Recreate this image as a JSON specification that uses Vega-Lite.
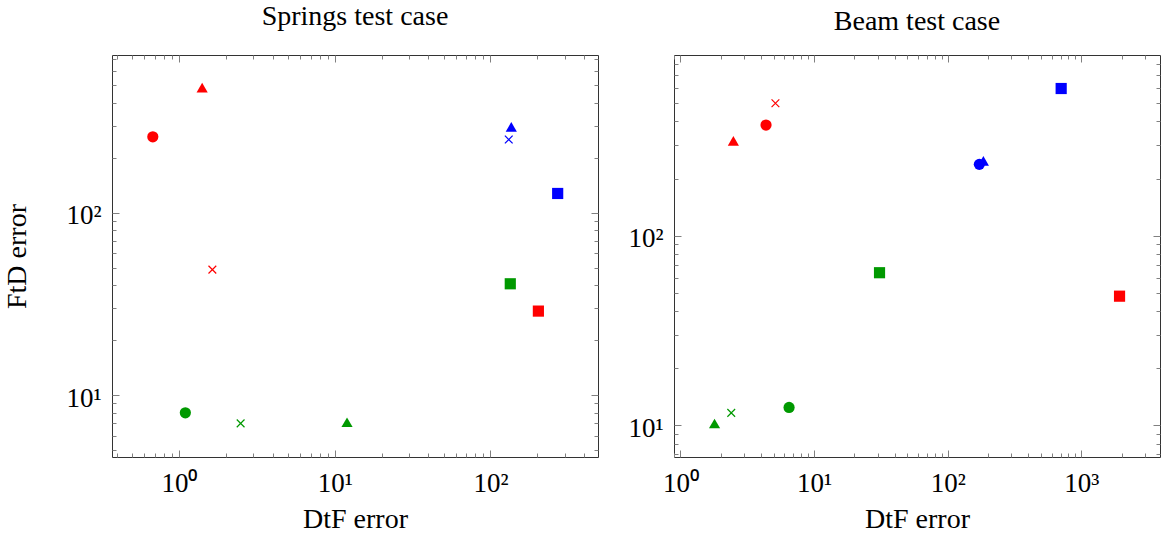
{
  "$schema": "https://vega.github.io/schema/vega-lite/v6.json",
  "padding": {"left": 3, "top": 2, "right": 5, "bottom": 0},
  "spacing": 28,
  "datasets": {
    "springs": [
      {"dtf": 0.68, "ftd": 261, "color": "red", "marker": "circle"},
      {"dtf": 1.41, "ftd": 485, "color": "red", "marker": "triangle"},
      {"dtf": 1.64, "ftd": 48.8, "color": "red", "marker": "cross"},
      {"dtf": 203, "ftd": 28.9, "color": "red", "marker": "square"},
      {"dtf": 1.10, "ftd": 8.0, "color": "green", "marker": "circle"},
      {"dtf": 2.49, "ftd": 7.0, "color": "green", "marker": "cross"},
      {"dtf": 12.0, "ftd": 7.1, "color": "green", "marker": "triangle"},
      {"dtf": 134, "ftd": 40.8, "color": "green", "marker": "square"},
      {"dtf": 136, "ftd": 296, "color": "blue", "marker": "triangle"},
      {"dtf": 131, "ftd": 252, "color": "blue", "marker": "cross"},
      {"dtf": 270, "ftd": 127.6, "color": "blue", "marker": "square"}
    ],
    "beam": [
      {"dtf": 4.37, "ftd": 383, "color": "red", "marker": "circle"},
      {"dtf": 2.49, "ftd": 316, "color": "red", "marker": "triangle"},
      {"dtf": 5.14, "ftd": 499, "color": "red", "marker": "cross"},
      {"dtf": 1933, "ftd": 47.9, "color": "red", "marker": "square"},
      {"dtf": 6.5, "ftd": 12.4, "color": "green", "marker": "circle"},
      {"dtf": 1.80, "ftd": 10.2, "color": "green", "marker": "triangle"},
      {"dtf": 2.40, "ftd": 11.6, "color": "green", "marker": "cross"},
      {"dtf": 30.9, "ftd": 63.7, "color": "green", "marker": "square"},
      {"dtf": 172.6, "ftd": 237.6, "color": "blue", "marker": "circle"},
      {"dtf": 185, "ftd": 248, "color": "blue", "marker": "triangle"},
      {"dtf": 707, "ftd": 597, "color": "blue", "marker": "square"}
    ]
  },
  "config": {
    "font": "Liberation Serif",
    "view": {"stroke": "#333333", "strokeWidth": 1},
    "axis": {
      "grid": false,
      "domain": false,
      "labelFont": "Liberation Serif",
      "labelFontSize": 27,
      "labelColor": "#000000",
      "labelOverlap": false,
      "labelFlush": false,
      "titleFont": "Liberation Serif",
      "titleFontSize": 28,
      "titleFontWeight": "normal",
      "titleColor": "#000000",
      "tickColor": "#808080",
      "tickWidth": 1
    },
    "title": {"font": "Liberation Serif", "fontSize": 28, "fontWeight": "normal", "color": "#000000", "frame": "group", "anchor": "middle", "offset": 17}
  },
  "hconcat": [
    {
      "width": 486,
      "height": 402,
      "title": "Springs test case",
      "data": {"name": "springs"},
      "layer": [
        {
          "transform": [{"filter": "datum.marker !== 'cross'"}],
          "mark": {"type": "point", "filled": true, "opacity": 1, "size": 125},
          "encoding": {
            "x": {"field": "dtf", "type": "quantitative",
              "scale": {"type": "log", "domain": [0.372, 490], "nice": false, "zero": false},
              "axis": {"orient": "bottom", "title": "DtF error", "titlePadding": 6,
                "values": [0.4,0.5,0.6,0.7,0.8,0.9,1,2,3,4,5,6,7,8,9,10,20,30,40,50,60,70,80,90,100,200,300,400],
                "labelExpr": "abs(log(datum.value)/LN10 - round(log(datum.value)/LN10)) < 0.001 ? '10' + ['⁰','¹','²','³'][round(log(datum.value)/LN10)] : ''",
                "tickSize": {"condition": {"test": "abs(log(datum.value)/LN10 - round(log(datum.value)/LN10)) < 0.001", "value": -7}, "value": -4},
                "labelPadding": 20}},
            "y": {"field": "ftd", "type": "quantitative",
              "scale": {"type": "log", "domain": [4.58, 733], "nice": false, "zero": false},
              "axis": {"orient": "left", "title": "FtD error", "titlePadding": 34,
                "values": [5,6,7,8,9,10,20,30,40,50,60,70,80,90,100,200,300,400,500,600,700],
                "labelExpr": "abs(log(datum.value)/LN10 - round(log(datum.value)/LN10)) < 0.001 ? '10' + ['⁰','¹','²','³'][round(log(datum.value)/LN10)] : ''",
                "tickSize": {"condition": {"test": "abs(log(datum.value)/LN10 - round(log(datum.value)/LN10)) < 0.001", "value": -7}, "value": -4},
                "labelPadding": 18, "labelOffset": 3}},
            "color": {"field": "color", "type": "nominal", "scale": {"domain": ["red", "green", "blue"], "range": ["#ff0000", "#009900", "#0000ff"]}, "legend": null},
            "shape": {"field": "marker", "type": "nominal", "scale": {"domain": ["circle", "square", "triangle"], "range": ["circle", "square", "triangle-up"]}, "legend": null}
          }
        },
        {
          "transform": [{"filter": "datum.marker === 'cross'"}],
          "mark": {"type": "point", "shape": "M-1,-1L1,1M-1,1L1,-1", "filled": false, "strokeWidth": 1.2, "size": 60, "opacity": 1},
          "encoding": {
            "x": {"field": "dtf", "type": "quantitative",
              "axis": {"orient": "top", "title": null, "labels": false,
                "values": [0.4,0.5,0.6,0.7,0.8,0.9,1,2,3,4,5,6,7,8,9,10,20,30,40,50,60,70,80,90,100,200,300,400],
                "tickSize": {"condition": {"test": "abs(log(datum.value)/LN10 - round(log(datum.value)/LN10)) < 0.001", "value": -7}, "value": -4}}},
            "y": {"field": "ftd", "type": "quantitative",
              "axis": {"orient": "right", "title": null, "labels": false,
                "values": [5,6,7,8,9,10,20,30,40,50,60,70,80,90,100,200,300,400,500,600,700],
                "tickSize": {"condition": {"test": "abs(log(datum.value)/LN10 - round(log(datum.value)/LN10)) < 0.001", "value": -7}, "value": -4}}},
            "color": {"field": "color", "type": "nominal", "legend": null}
          }
        }
      ],
      "resolve": {"axis": {"x": "independent", "y": "independent"}}
    },
    {
      "width": 486,
      "height": 402,
      "title": "Beam test case",
      "data": {"name": "beam"},
      "layer": [
        {
          "transform": [{"filter": "datum.marker !== 'cross'"}],
          "mark": {"type": "point", "filled": true, "opacity": 1, "size": 125},
          "encoding": {
            "x": {"field": "dtf", "type": "quantitative",
              "scale": {"type": "log", "domain": [0.895, 3882], "nice": false, "zero": false},
              "axis": {"orient": "bottom", "title": "DtF error", "titlePadding": 6,
                "values": [0.9,1,2,3,4,5,6,7,8,9,10,20,30,40,50,60,70,80,90,100,200,300,400,500,600,700,800,900,1000,2000,3000],
                "labelExpr": "abs(log(datum.value)/LN10 - round(log(datum.value)/LN10)) < 0.001 ? '10' + ['⁰','¹','²','³'][round(log(datum.value)/LN10)] : ''",
                "tickSize": {"condition": {"test": "abs(log(datum.value)/LN10 - round(log(datum.value)/LN10)) < 0.001", "value": -7}, "value": -4},
                "labelPadding": 20}},
            "y": {"field": "ftd", "type": "quantitative",
              "scale": {"type": "log", "domain": [6.79, 897], "nice": false, "zero": false},
              "axis": {"orient": "left", "title": null,
                "values": [7,8,9,10,20,30,40,50,60,70,80,90,100,200,300,400,500,600,700,800],
                "labelExpr": "abs(log(datum.value)/LN10 - round(log(datum.value)/LN10)) < 0.001 ? '10' + ['⁰','¹','²','³'][round(log(datum.value)/LN10)] : ''",
                "tickSize": {"condition": {"test": "abs(log(datum.value)/LN10 - round(log(datum.value)/LN10)) < 0.001", "value": -7}, "value": -4},
                "labelPadding": 18, "labelOffset": 3}},
            "color": {"field": "color", "type": "nominal", "scale": {"domain": ["red", "green", "blue"], "range": ["#ff0000", "#009900", "#0000ff"]}, "legend": null},
            "shape": {"field": "marker", "type": "nominal", "scale": {"domain": ["circle", "square", "triangle"], "range": ["circle", "square", "triangle-up"]}, "legend": null}
          }
        },
        {
          "transform": [{"filter": "datum.marker === 'cross'"}],
          "mark": {"type": "point", "shape": "M-1,-1L1,1M-1,1L1,-1", "filled": false, "strokeWidth": 1.2, "size": 60, "opacity": 1},
          "encoding": {
            "x": {"field": "dtf", "type": "quantitative",
              "axis": {"orient": "top", "title": null, "labels": false,
                "values": [0.9,1,2,3,4,5,6,7,8,9,10,20,30,40,50,60,70,80,90,100,200,300,400,500,600,700,800,900,1000,2000,3000],
                "tickSize": {"condition": {"test": "abs(log(datum.value)/LN10 - round(log(datum.value)/LN10)) < 0.001", "value": -7}, "value": -4}}},
            "y": {"field": "ftd", "type": "quantitative",
              "axis": {"orient": "right", "title": null, "labels": false,
                "values": [7,8,9,10,20,30,40,50,60,70,80,90,100,200,300,400,500,600,700,800],
                "tickSize": {"condition": {"test": "abs(log(datum.value)/LN10 - round(log(datum.value)/LN10)) < 0.001", "value": -7}, "value": -4}}},
            "color": {"field": "color", "type": "nominal", "legend": null}
          }
        }
      ],
      "resolve": {"axis": {"x": "independent", "y": "independent"}}
    }
  ]
}
